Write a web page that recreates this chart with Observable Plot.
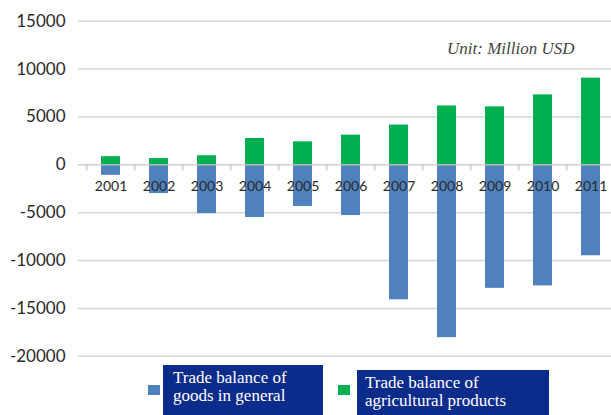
<!DOCTYPE html>
<html>
<head>
<meta charset="utf-8">
<script src="https://cdn.jsdelivr.net/npm/d3@7"></script>
<script src="https://cdn.jsdelivr.net/npm/@observablehq/plot@0.6"></script>
<style>
  html, body { margin: 0; padding: 0; background: #fff; }
  #wrap { position: relative; width: 611px; height: 415px; overflow: hidden; background: #fff; }
  #wrap svg { display: block; }
  .sw { position: absolute; width: 12px; height: 10px; }
  .lbox { position: absolute; background: #0c2c8c; color: #fff; font-family: "Liberation Serif", "Times New Roman", serif; font-size: 17px; line-height: 18px; box-sizing: border-box; padding-top: 4px; white-space: nowrap; }
</style>
</head>
<body>
<div id="wrap"></div>
<script>
const years = ["2001","2002","2003","2004","2005","2006","2007","2008","2009","2010","2011"];
const goods = [-1100, -3000, -5100, -5500, -4350, -5300, -14100, -18050, -12900, -12650, -9500];
const agri = [850, 650, 950, 2750, 2400, 3100, 4150, 6150, 6050, 7300, 9050];
const yTicks = [-20000, -15000, -10000, -5000, 0, 5000, 10000, 15000];
const seriesNames = ["Trade balance of goods in general", "Trade balance of agricultural products"];
const seriesColors = ["#4f81bd", "#00b050"];
const unitLabel = "Unit: Million USD";

const rows = [];
years.forEach((y, i) => {
  rows.push({year: y, series: seriesNames[0], value: goods[i]});
  rows.push({year: y, series: seriesNames[1], value: agri[i]});
});

const chart = Plot.plot({
  width: 611,
  height: 365,
  marginLeft: 78,
  marginRight: 0,
  marginTop: 20.7,
  marginBottom: 9.2,
  style: {background: "#fff", overflow: "hidden"},
  x: {domain: years, range: [83.8, 616.8], paddingInner: 0.6, paddingOuter: 0.3, axis: null},
  y: {domain: [-20000, 15000], range: [355.8, 20.7], ticks: yTicks, axis: null},
  color: {domain: seriesNames, range: seriesColors},
  marks: [
    Plot.ruleY(yTicks.filter(d => d !== 0), {stroke: "#d6d6d6", strokeWidth: 1.5}),
    Plot.barY(rows, {x: "year", y: "value", fill: "series"}),
    Plot.ruleY([0], {stroke: "#c4c4c4", strokeWidth: 1.3}),
    Plot.ruleX(years, {x: d => d, y1: 0, y2: -650, dx: -24.2, stroke: "#c4c4c4", strokeWidth: 1.2}),
    Plot.ruleX([years[years.length - 1]], {x: d => d, y1: 0, y2: -650, dx: 24.2, stroke: "#c4c4c4", strokeWidth: 1.2}),
    Plot.text(years, {x: d => d, y: () => 0, dy: 22, text: d => d, fontSize: 14, fill: "#2a2a2a", fontFamily: "Lato, sans-serif"}),
    Plot.text(yTicks, {y: d => d, frameAnchor: "left", text: d => String(d), textAnchor: "end", dx: -13, fontSize: 17, fill: "#2a2a2a", fontFamily: "Lato, sans-serif"}),
    Plot.text([unitLabel], {frameAnchor: "top-right", text: d => d, textAnchor: "end", dx: -37, dy: 21, fontSize: 17, fontStyle: "italic", fill: "#444", fontFamily: "'Liberation Serif', 'Times New Roman', serif"})
  ]
});

const wrap = document.getElementById("wrap");
wrap.appendChild(chart);

function addSwatch(left, color) {
  const s = document.createElement("div");
  s.className = "sw";
  s.style.left = left + "px";
  s.style.top = "385px";
  s.style.background = color;
  wrap.appendChild(s);
}
function addBox(left, top, width, pad, lines) {
  const b = document.createElement("div");
  b.className = "lbox";
  b.style.left = left + "px";
  b.style.top = top + "px";
  b.style.width = width + "px";
  b.style.height = (415 - top + 5) + "px";
  b.style.paddingLeft = pad + "px";
  b.innerHTML = lines.join("<br>");
  wrap.appendChild(b);
}
addSwatch(148, seriesColors[0]);
addSwatch(338, seriesColors[1]);
addBox(163, 365, 160, 10, ["Trade balance of", "goods in general"]);
addBox(357, 370, 192, 8, ["Trade balance of", "agricultural products"]);
</script>
</body>
</html>
